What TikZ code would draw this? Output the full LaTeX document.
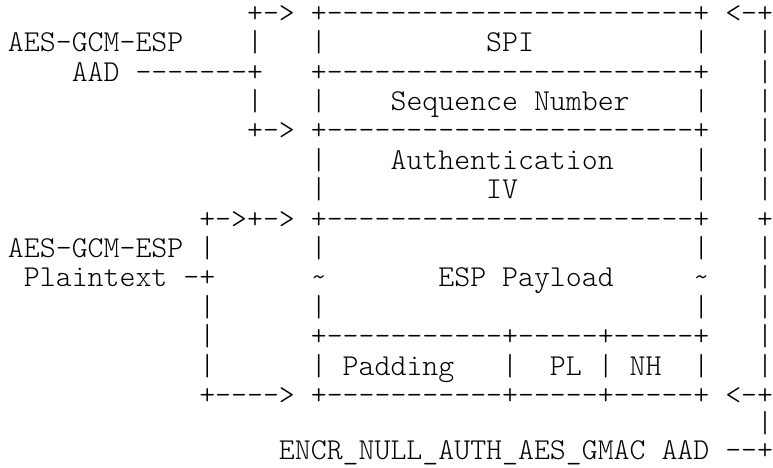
\documentclass[tikz,border=0pt]{standalone}
\usepackage{fontspec}
\setmonofont{lmmonolt10-regular.otf}
\begin{document}
\begin{tikzpicture}[x=15.94pt,y=-29.4pt,
  t/.style={anchor=base west,inner sep=0pt,outer sep=0pt,
    text height=0.62em,text depth=0.1em,
    font=\ttfamily\fontsize{30.36}{29.4}\selectfont}]
\useasboundingbox[fill=white] (-8pt,22.3pt) rectangle (765pt,-445.7pt);
% row 0
\node[t] (r0a) at (15,0) {+->};
\node[t] (r0b) at (19,0) {+-----------------------+};
\node[t] (r0c) at (45,0) {<-+};
% row 1
\node[t] (r1a) at (0,1) {AES-GCM-ESP};
\node[t] (r1b) at (15,1) {|};
\node[t] (r1c) at (19,1) {|};
\node[t] (r1d) at (30,1) {SPI};
\node[t] (r1e) at (43,1) {|};
\node[t] (r1f) at (47,1) {|};
% row 2
\node[t] (r2a) at (4,2) {AAD};
\node[t] (r2b) at (8,2) {-------+};
\node[t] (r2c) at (19,2) {+-----------------------+};
\node[t] (r2d) at (47,2) {|};
% row 3
\node[t] (r3a) at (15,3) {|};
\node[t] (r3b) at (19,3) {|};
\node[t] (r3c) at (24,3) {Sequence Number};
\node[t] (r3d) at (43,3) {|};
\node[t] (r3e) at (47,3) {|};
% row 4
\node[t] (r4a) at (15,4) {+->};
\node[t] (r4b) at (19,4) {+-----------------------+};
\node[t] (r4c) at (47,4) {|};
% row 5
\node[t] (r5a) at (19,5) {|};
\node[t] (r5b) at (24,5) {Authentication};
\node[t] (r5c) at (43,5) {|};
\node[t] (r5d) at (47,5) {|};
% row 6
\node[t] (r6a) at (19,6) {|};
\node[t] (r6b) at (30,6) {IV};
\node[t] (r6c) at (43,6) {|};
\node[t] (r6d) at (47,6) {|};
% row 7
\node[t] (r7a) at (12,7) {+->+->};
\node[t] (r7b) at (19,7) {+-----------------------+};
\node[t] (r7c) at (47,7) {+};
% row 8
\node[t] (r8a) at (0,8) {AES-GCM-ESP};
\node[t] (r8b) at (12,8) {|};
\node[t] (r8c) at (19,8) {|};
\node[t] (r8d) at (43,8) {|};
\node[t] (r8e) at (47,8) {|};
% row 9
\node[t] (r9a) at (1,9) {Plaintext -+};
\node[t] (r9b) at (19,9) {\textasciitilde};
\node[t] (r9c) at (27,9) {ESP Payload};
\node[t] (r9d) at (43,9) {\textasciitilde};
\node[t] (r9e) at (47,9) {|};
% row 10
\node[t] (r10a) at (12,10) {|};
\node[t] (r10b) at (19,10) {|};
\node[t] (r10c) at (43,10) {|};
\node[t] (r10d) at (47,10) {|};
% row 11
\node[t] (r11a) at (12,11) {|};
\node[t] (r11b) at (19,11) {+-----------+-----+-----+};
\node[t] (r11c) at (47,11) {|};
% row 12
\node[t] (r12a) at (12,12) {|};
\node[t] (r12b) at (19,12) {|};
\node[t] (r12c) at (21,12) {Padding};
\node[t] (r12d) at (31,12) {|};
\node[t] (r12e) at (34,12) {PL};
\node[t] (r12f) at (37,12) {|};
\node[t] (r12g) at (39,12) {NH};
\node[t] (r12h) at (43,12) {|};
\node[t] (r12i) at (47,12) {|};
% row 13
\node[t] (r13a) at (12,13) {+---->};
\node[t] (r13b) at (19,13) {+-----------+-----+-----+};
\node[t] (r13c) at (45,13) {<-+};
% row 14
\node[t] (r14a) at (47,13.94) {|};
% row 15
\node[t] (r15a) at (17,14.88) {ENCR\_NULL\_AUTH\_AES\_GMAC AAD --+};
\end{tikzpicture}
\end{document}
